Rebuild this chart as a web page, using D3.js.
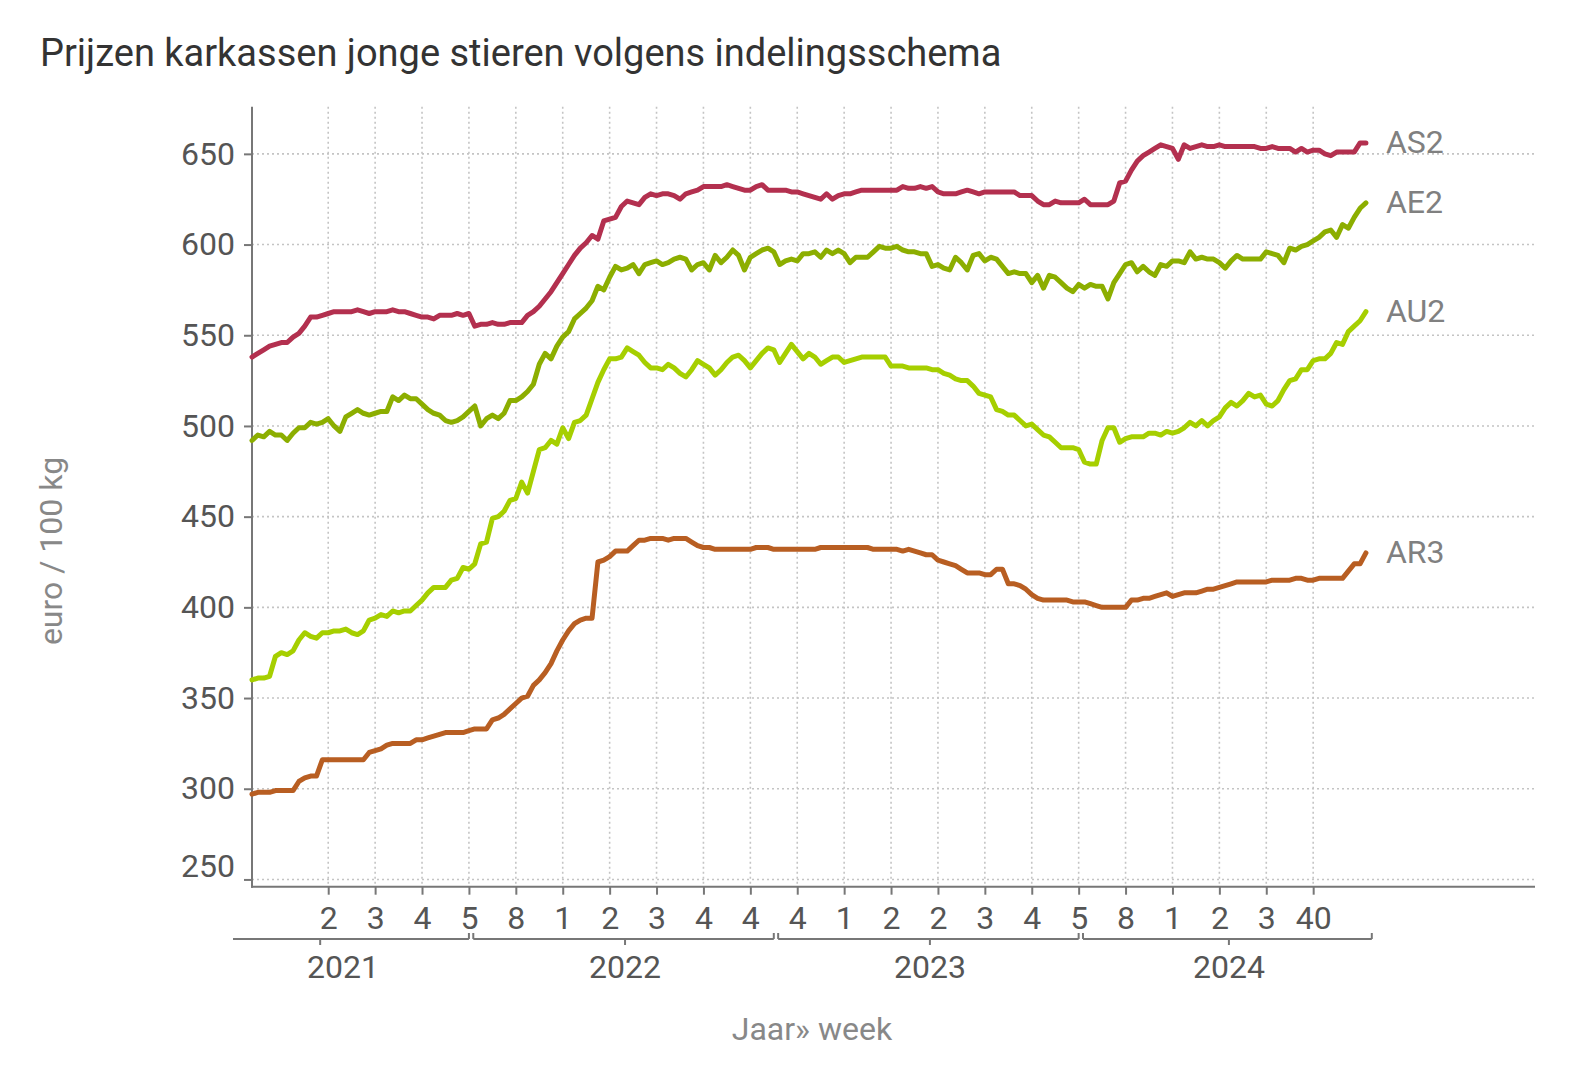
<!DOCTYPE html>
<html>
 <head>
  <meta charset="utf-8">
  <title>Prijzen karkassen jonge stieren</title>
  <style>
  body {
   margin: 0;
   background: #fff;
  }
  svg {
   display: block;
   font-family: Roboto, sans-serif;
  }
  .grid line {
   stroke: #c4c4c4;
   stroke-width: 1.6;
   stroke-dasharray: 2,3;
  }
  </style>
 </head>

 <body>
  <script src="https://cdnjs.cloudflare.com/ajax/libs/d3/7.8.3/d3.min.js"></script>
  <script>
   // categories: year + week
   const years = [2021, 2022, 2023, 2024];
   const firstWeek = [15, 1, 1, 1];
   const lastWeek = [52, 52, 52, 50];
   const tickLabels = ["2","3","4","5","8","1","2","3","4","4","4","1","2","2","3","4","5","8","1","2","3","40"];
   const yTicks = [250, 300, 350, 400, 450, 500, 550, 600, 650];

   const seriesNames = ["AS2", "AE2", "AU2", "AR3"];
   const seriesColors = ["#b3304f", "#8cae00", "#a6cf00", "#b85e22"];

   const as2 = [538,540,542,544,545,546,546,549,551,555,560,560,561,562,563,563,563,563,564,563,
    562,563,563,563,564,563,563,562,561,560,560,559,561,561,561,562,561,562,555,556,
    556,557,556,556,557,557,557,561,563,566,570,574,579,584,589,594,598,601,605,603,
    613,614,615,621,624,623,622,626,628,627,628,628,627,625,628,629,630,632,632,632,
    632,633,632,631,630,630,632,633,630,630,630,630,629,629,628,627,626,625,628,625,
    627,628,628,629,630,630,630,630,630,630,630,632,631,631,632,631,632,629,628,628,
    628,629,630,629,628,629,629,629,629,629,629,627,627,627,624,622,622,624,623,623,
    623,623,625,622,622,622,622,624,634,635,641,646,649,651,653,655,654,653,647,655,
    653,654,655,654,654,655,654,654,654,654,654,654,653,653,654,653,653,653,651,653,
    651,652,652,650,649,651,651,651,651,656,656];

   const ae2 = [492,495,494,497,495,495,492,496,499,499,502,501,502,504,500,497,505,507,509,507,
    506,507,508,508,516,514,517,515,515,512,509,507,506,503,502,503,505,508,511,500,
    504,506,504,507,514,514,516,519,523,534,540,537,544,549,552,559,562,565,569,577,
    575,582,588,586,587,589,584,589,590,591,589,590,592,593,592,586,589,590,586,594,
    590,593,597,594,586,593,595,597,598,596,589,591,592,591,595,595,596,593,597,595,
    597,595,590,593,593,593,596,599,598,598,599,597,596,596,595,595,588,589,587,586,
    593,590,586,594,595,591,593,592,588,584,585,584,584,579,583,576,583,582,579,576,
    574,578,576,578,577,577,570,579,584,589,590,585,588,585,583,589,588,591,591,590,
    596,592,593,592,592,590,587,591,594,592,592,592,592,596,595,594,590,598,597,599,
    600,602,604,607,608,604,611,609,615,620,623];

   const au2 = [360,361,361,362,373,375,374,376,382,386,384,383,386,386,387,387,388,386,385,387,
    393,394,396,395,398,397,398,398,401,404,408,411,411,411,415,416,422,421,424,435,
    436,449,450,453,459,460,469,463,475,487,488,492,490,499,493,502,503,506,515,524,
    531,537,537,538,543,541,539,535,532,532,531,534,532,529,527,531,536,534,532,528,
    531,535,538,539,536,532,536,540,543,542,535,540,545,541,537,540,538,534,536,538,
    538,535,536,537,538,538,538,538,538,533,533,533,532,532,532,532,531,531,529,528,
    526,525,525,522,518,517,516,509,508,506,506,503,500,501,498,495,494,491,488,488,
    488,487,480,479,479,492,499,499,491,493,494,494,494,496,496,495,497,496,497,499,
    502,500,503,500,503,505,510,513,511,514,518,516,517,512,511,514,520,525,526,531,
    531,536,537,537,540,546,545,552,555,558,563];

   const ar3 = [297,298,298,298,299,299,299,299,304,306,307,307,316,316,316,316,316,316,316,316,
    320,321,322,324,325,325,325,325,327,327,328,329,330,331,331,331,331,332,333,333,
    333,338,339,341,344,347,350,351,357,360,364,369,376,382,387,391,393,394,394,425,
    426,428,431,431,431,434,437,437,438,438,438,437,438,438,438,436,434,433,433,432,
    432,432,432,432,432,432,433,433,433,432,432,432,432,432,432,432,432,433,433,433,
    433,433,433,433,433,433,432,432,432,432,432,431,432,431,430,429,429,426,425,424,
    423,421,419,419,419,418,418,421,421,413,413,412,410,407,405,404,404,404,404,404,
    403,403,403,402,401,400,400,400,400,400,404,404,405,405,406,407,408,406,407,408,
    408,408,409,410,410,411,412,413,414,414,414,414,414,414,415,415,415,415,416,416,
    415,415,416,416,416,416,416,420,424,424,430];

   const seriesValues = [as2, ae2, au2, ar3];

   const w = 1570;
   const h = 1092;
   const padLeft = 252;
   const padRight = 1535;
   const plotTop = 106.7;
   const plotBottom = 886.7;

   // build week keys
   const keys = [];
   const keyYear = [];
   years.forEach((yr, k) => {
    for (let wk = firstWeek[k]; wk <= lastWeek[k]; wk++) {
     keys.push(yr + "-" + wk);
     keyYear.push(yr);
    }
   });
   const tickKeys = keys.filter((d, i) => i >= 13 && (i - 13) % 8 === 0).slice(0, tickLabels.length);

   const xScale = d3.scalePoint()
                    .domain(keys)
                    .range([padLeft, 1371.8]);
   const yScale = d3.scaleLinear()
                    .domain([246, 676])
                    .range([plotBottom, plotTop]);

   const svg = d3.select("body")
                 .append("svg")
                 .attr("width", w)
                 .attr("height", h);

   svg.append("text")
      .attr("x", 40)
      .attr("y", 66)
      .attr("fill", "#333")
      .style("font-size", "38px")
      .text("Prijzen karkassen jonge stieren volgens indelingsschema");

   // grid
   const grid = svg.append("g").attr("class", "grid");
   grid.selectAll(".gx")
       .data(tickKeys)
       .enter()
       .append("line")
       .attr("x1", d => xScale(d))
       .attr("x2", d => xScale(d))
       .attr("y1", plotTop)
       .attr("y2", plotBottom);
   grid.selectAll(".gy")
       .data(yTicks)
       .enter()
       .append("line")
       .attr("x1", padLeft)
       .attr("x2", padRight)
       .attr("y1", d => yScale(d))
       .attr("y2", d => yScale(d));

   // axes
   const xAxis = d3.axisBottom(xScale)
                   .tickValues(tickKeys)
                   .tickFormat((d, i) => tickLabels[i])
                   .tickSize(8)
                   .tickPadding(12);
   const yAxis = d3.axisLeft(yScale)
                   .tickValues(yTicks)
                   .tickSize(8)
                   .tickPadding(9);

   const gx = svg.append("g")
                 .attr("transform", "translate(0," + plotBottom + ")")
                 .call(xAxis);
   const gy = svg.append("g")
                 .attr("transform", "translate(" + padLeft + ",0)")
                 .call(yAxis);
   [gx, gy].forEach(g => {
    g.select(".domain").remove();
    g.selectAll(".tick line").attr("stroke", "#777").attr("stroke-width", 2);
    g.selectAll(".tick text")
     .attr("fill", "#555")
     .style("font-size", "32px")
     .style("font-family", "Roboto, sans-serif");
   });
   gy.selectAll(".tick text").filter(d => d === 250).attr("y", -13);

   svg.append("line")
      .attr("x1", padLeft).attr("x2", padLeft)
      .attr("y1", plotTop).attr("y2", plotBottom + 1)
      .attr("stroke", "#777").attr("stroke-width", 2);
   svg.append("line")
      .attr("x1", padLeft - 1).attr("x2", padRight)
      .attr("y1", plotBottom).attr("y2", plotBottom)
      .attr("stroke", "#777").attr("stroke-width", 2);

   // year brackets
   const by = 939;
   const clipLeft = 233;
   years.forEach((yr, k) => {
    const idx = keys.map((d, i) => i).filter(i => keyYear[i] === yr);
    const first = idx[0] - (firstWeek[k] - 1);
    const last = idx[idx.length - 1];
    const step = xScale.step();
    const xa = padLeft + first * step - 1.5;
    const xb = xScale(keys[last]);
    const xc = (xa + xb) / 2 + 1.5;
    const x0 = Math.max(xa, clipLeft);
    const g = svg.append("g").attr("stroke", "#777").attr("stroke-width", 2);
    g.append("line").attr("x1", x0).attr("x2", xb).attr("y1", by).attr("y2", by);
    if (xa >= clipLeft) {
     g.append("line").attr("x1", x0).attr("x2", x0).attr("y1", by - 6).attr("y2", by);
    }
    g.append("line").attr("x1", xb).attr("x2", xb).attr("y1", by - 6).attr("y2", by);
    g.append("line").attr("x1", xc).attr("x2", xc).attr("y1", by).attr("y2", by + 6);
    const lx = xa >= clipLeft ? xc : (clipLeft - 16 + xb) / 2;
    svg.append("text")
       .attr("x", lx)
       .attr("y", 978)
       .attr("text-anchor", "middle")
       .attr("fill", "#555")
       .style("font-size", "32px")
       .text(yr);
   });

   // axis titles
   svg.append("text")
      .attr("transform", "translate(62,551) rotate(-90)")
      .attr("text-anchor", "middle")
      .attr("fill", "#888")
      .style("font-size", "32px")
      .text("euro / 100 kg");
   svg.append("text")
      .attr("x", 812)
      .attr("y", 1040)
      .attr("text-anchor", "middle")
      .attr("fill", "#888")
      .style("font-size", "32px")
      .text("Jaar» week");

   // lines
   const line = d3.line()
                  .x((d, i) => xScale(keys[i]))
                  .y(d => yScale(d));
   seriesValues.forEach((vals, k) => {
    svg.append("path")
       .datum(vals)
       .attr("fill", "none")
       .attr("stroke", seriesColors[k])
       .attr("stroke-width", 5)
       .attr("stroke-linejoin", "round")
       .attr("stroke-linecap", "round")
       .attr("d", line);
    const lastI = vals.length - 1;
    svg.append("text")
       .attr("x", xScale(keys[lastI]) + 20)
       .attr("y", yScale(vals[lastI]) - 1)
       .attr("dy", "0.35em")
       .attr("fill", "#808080")
       .style("font-size", "32px")
       .text(seriesNames[k]);
   });
  </script>
 </body>
</html>
